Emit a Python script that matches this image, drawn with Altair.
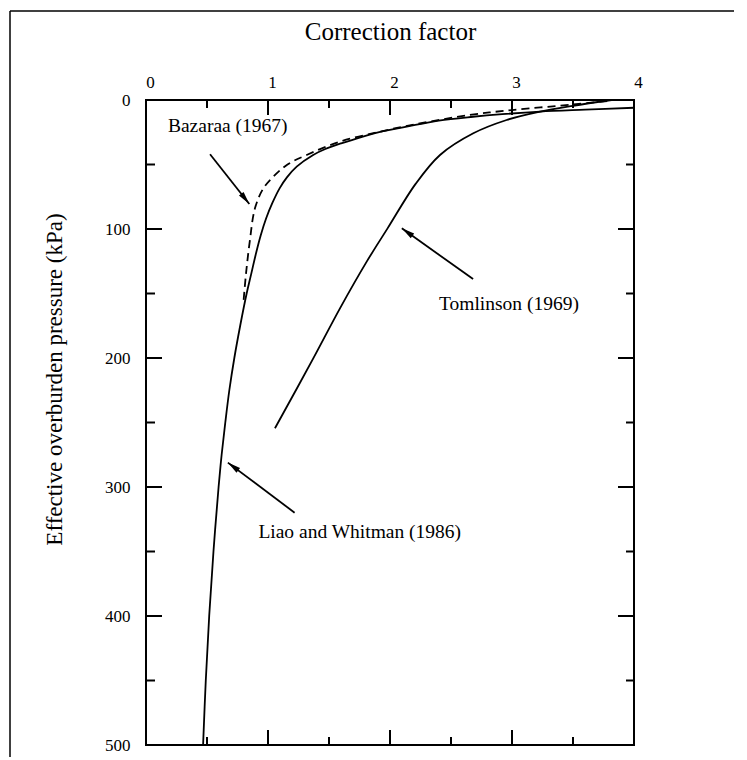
import math
import altair as alt
import pandas as pd

# ---------------- data ----------------
# Liao and Whitman (1986)
liao_sigma = [6.0, 7.5, 9.0, 11, 13, 16, 20.7, 25.8, 30, 33.6, 38, 42.6, 51.7, 60, 68.5, 80, 91.7, 105, 117.6, 135,
              150, 175, 200, 225, 250, 275, 300, 350, 400, 450, 500]
liao_cn = [4.0, 3.6, 3.23, 2.92, 2.68, 2.40, 2.137, 1.87, 1.725, 1.60, 1.47, 1.37, 1.235, 1.155, 1.095, 1.035, 0.985, 0.94, 0.905, 0.862,
           0.825, 0.772, 0.724, 0.683, 0.65, 0.62, 0.595, 0.553, 0.518, 0.49, 0.468]

# Tomlinson (1969)
tom_sigma = [0, 4.5, 9.0, 15.5, 25.8, 42.6, 65, 99.5, 125.3, 161.5, 200.3, 254.5]
tom_cn = [3.817, 3.50, 3.23, 2.956, 2.683, 2.41, 2.21, 1.98, 1.809, 1.59, 1.371, 1.057]

# Bazaraa (1967)
baz_sigma = [0.8, 3.5, 7.8, 11.6, 19, 24.5, 32.3, 42.6, 50, 59.4, 68.5, 84, 108.5, 134.4, 157.6]
baz_cn = [3.78, 3.50, 3.0, 2.65, 2.2, 1.92, 1.59, 1.317, 1.16, 1.044, 0.962, 0.893, 0.852, 0.82, 0.798]

# annotations
labels = ["Bazaraa (1967)", "Tomlinson (1969)", "Liao and Whitman (1986)"]
label_cn = [0.67, 2.975, 1.752]
label_sigma = [19.9, 158.4, 334.7]

arrow_x1 = [0.525, 2.681, 1.218]
arrow_y1 = [42.1, 138.8, 319.9]
arrow_x2 = [0.847, 2.097, 0.671]
arrow_y2 = [80.6, 99.5, 281.1]

x_labels = [0, 1, 2, 3, 4]
y_labels = [0, 100, 200, 300, 400, 500]
x_major = [1, 2, 3]
x_minor = [0.5, 1.5, 2.5, 3.5]
y_major = [100, 200, 300, 400]
y_minor = [50, 150, 250, 350, 450]

# ---------------- chart ----------------
W, H = 488, 645
FONT = "Liberation Serif"

xs = alt.Scale(domain=[0, 4], nice=False, zero=False)
ys = alt.Scale(domain=[0, 500], reverse=True, nice=False, zero=False)

X_AXIS = alt.Axis(
    orient="top", values=x_labels, format="d", title="Correction factor",
    labelFontSize=17, labelPadding=9, labelOffset=4, labelFlush=False,
    titleFontSize=25, titleBaseline="alphabetic", titleY=-61,
    domain=False, ticks=False, grid=False,
)
Y_AXIS = alt.Axis(
    orient="left", values=y_labels, format="d",
    title="Effective overburden pressure (kPa)",
    labelFontSize=17, labelPadding=16, labelFlush=False,
    titleFontSize=23, titleBaseline="alphabetic", titleX=-85, titleY=279,
    domain=False, ticks=False, grid=False,
)


def X(field):
    return alt.X(field, scale=xs, axis=X_AXIS)


def Y(field):
    return alt.Y(field, scale=ys, axis=Y_AXIS)


def curve_df(cn, sig):
    return pd.DataFrame({"cn": cn, "sigma": sig, "idx": list(range(len(cn)))})


liao = alt.Chart(curve_df(liao_cn, liao_sigma)).mark_line(
    color="black", strokeWidth=1.8, interpolate="catmull-rom"
).encode(x=X("cn:Q"), y=Y("sigma:Q"), order="idx:Q")

tom = alt.Chart(curve_df(tom_cn, tom_sigma)).mark_line(
    color="black", strokeWidth=1.8, interpolate="catmull-rom"
).encode(x=X("cn:Q"), y=Y("sigma:Q"), order="idx:Q")

baz = alt.Chart(curve_df(baz_cn, baz_sigma)).mark_line(
    color="black", strokeWidth=1.8, strokeDash=[8, 5], interpolate="catmull-rom"
).encode(x=X("cn:Q"), y=Y("sigma:Q"), order="idx:Q")

arr_df = pd.DataFrame({"x1": arrow_x1, "y1": arrow_y1, "x2": arrow_x2, "y2": arrow_y2})
arr_df["angle"] = [
    math.degrees(math.atan2((b - a) * W / 4, -(d - c) * H / 500)) % 360
    for a, b, c, d in zip(arrow_x1, arrow_x2, arrow_y1, arrow_y2)
]

arrow_lines = alt.Chart(arr_df).mark_rule(color="black", strokeWidth=1.8).encode(
    x=X("x1:Q"), y=Y("y1:Q"), x2="x2:Q", y2="y2:Q",
)

arrow_heads = alt.Chart(arr_df).mark_point(
    shape="M0,0L0.5,2.2L-0.5,2.2Z", filled=True, color="black", size=140, opacity=1
).encode(
    x=X("x2:Q"), y=Y("y2:Q"),
    angle=alt.Angle("angle:Q", scale=None),
)

texts = alt.Chart(pd.DataFrame({"t": labels, "x": label_cn, "y": label_sigma})).mark_text(
    font=FONT, fontSize=19.5, color="black", align="center", baseline="middle"
).encode(x=X("x:Q"), y=Y("y:Q"), text="t:N")


# inward ticks
def xticks(vals, y0, y1):
    return alt.Chart(pd.DataFrame({"v": vals})).mark_rule(color="black", strokeWidth=2).encode(
        x=X("v:Q"), y=alt.value(y0), y2=alt.value(y1)
    )


def yticks(vals, x0, x1):
    return alt.Chart(pd.DataFrame({"v": vals})).mark_rule(color="black", strokeWidth=2).encode(
        y=Y("v:Q"), x=alt.value(x0), x2=alt.value(x1)
    )


ticks = [
    xticks(x_major, 0, 15), xticks(x_minor, 0, 8),
    xticks(x_major, H, H - 15), xticks(x_minor, H, H - 8),
    yticks(y_major, 0, 16), yticks(y_minor, 0, 9),
    yticks(y_major, W, W - 16), yticks(y_minor, W, W - 8),
]

frame_df = pd.DataFrame({"a": [0]})
frame_left = alt.Chart(frame_df).mark_rule(color="black", strokeWidth=1.5).encode(
    x=alt.value(-136), y=alt.value(-89), y2=alt.value(H + 20)
)
frame_top = alt.Chart(frame_df).mark_rule(color="black", strokeWidth=1.5).encode(
    x=alt.value(-136), x2=alt.value(W + 110), y=alt.value(-89)
)

chart = alt.layer(
    liao, tom, baz, arrow_lines, arrow_heads, texts, *ticks, frame_left, frame_top
).properties(
    width=W, height=H,
    padding={"left": 138, "top": 92, "right": 100, "bottom": 12},
    autosize=alt.AutoSizeParams(type="none"),
    background="white",
).configure_view(
    stroke="black", strokeWidth=2
).configure_axis(
    labelFont=FONT, titleFont=FONT, labelColor="black", titleColor="black",
    titleFontWeight="normal", domain=False, ticks=False, grid=False,
)

chart.save("out.html", embed_options={"renderer": "svg", "actions": False})
